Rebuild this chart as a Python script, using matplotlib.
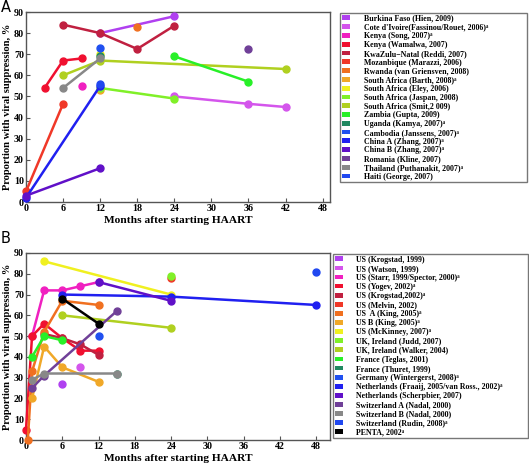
import matplotlib
matplotlib.use("Agg")
import matplotlib.pyplot as plt
from matplotlib.patches import Patch

SERIF = 'Liberation Serif'
FAM = ['Liberation Serif', 'DejaVu Serif', 'DejaVu Sans']
SUP = '\u1d43'

# ---------------- Panel A data ----------------
labels_A = [
    "Burkina Faso (Hien, 2009)",
    "Cote d'Ivoire(Fassinou/Rouet, 2006)" + SUP,
    "Kenya (Song, 2007)" + SUP,
    "Kenya (Wamalwa, 2007)",
    "KwaZulu\u2212Natal (Reddi, 2007)",
    "Mozanbique (Marazzi, 2006)",
    "Rwanda (van Griensven, 2008)",
    "South Africa (Barth, 2008)" + SUP,
    "South Africa (Eley, 2006)",
    "South Africa (Jaspan, 2008)",
    "South Africa (Smit,2 009)",
    "Zambia (Gupta, 2009)",
    "Uganda (Kamya, 2007)" + SUP,
    "Cambodia (Janssens, 2007)" + SUP,
    "China A (Zhang, 2007)" + SUP,
    "China B (Zhang, 2007)" + SUP,
    "Romania (Kline, 2007)",
    "Thailand (Puthanakit, 2007)" + SUP,
    "Haiti (George, 2007)",
]
colors_A = ["#b040f0", "#d455ec", "#f020c0", "#f01030", "#c02040", "#f03828",
            "#f07020", "#f0a828", "#f0f020", "#80f028", "#b0d020", "#28f028",
            "#208860", "#2050f0", "#2020f0", "#6010c8", "#704098", "#888888",
            "#2048f0"]
x_A = [
    [12, 24],
    [24, 36, 42],
    [9],
    [3, 6, 9],
    [6, 12, 18, 24],
    [0, 6],
    [18],
    [12],
    [12],
    [12, 24],
    [6, 12, 42],
    [24, 36],
    [12],
    [12],
    [0, 12],
    [0, 12],
    [36],
    [6, 12],
    [12],
]
y_A = [
    [80, 88],
    [50, 46.5, 45],
    [55],
    [54, 67, 68],
    [84, 80, 72.5, 83.5],
    [5, 46.5],
    [83],
    [53],
    [70],
    [54, 49],
    [60, 67, 63],
    [69, 57],
    [69],
    [73],
    [2, 55],
    [3, 16],
    [72.5],
    [54, 68],
    [56],
]

# ---------------- Panel B data ----------------
labels_B = [
    "US (Krogstad, 1999)",
    "US (Watson, 1999)",
    "US (Starr, 1999/Spector, 2000)" + SUP,
    "US (Yogev, 2002)" + SUP,
    "US (Krogstad,2002)" + SUP,
    "US (Melvin, 2002)",
    "US  A (King, 2005)" + SUP,
    "US B (King, 2005)" + SUP,
    "US (McKinney, 2007)" + SUP,
    "UK, Ireland (Judd, 2007)",
    "UK, Ireland (Walker, 2004)",
    "France (Teglas, 2001)",
    "France (Thuret, 1999)",
    "Germany (Wintergerst, 2008)" + SUP,
    "Netherlands (Fraaij, 2005/van Ross., 2002)" + SUP,
    "Netherlands (Scherpbier, 2007)",
    "Switzerland A (Nadal, 2000)",
    "Switzerland B (Nadal, 2000)",
    "Switzerland (Rudin, 2008)" + SUP,
    "PENTA, 2002" + SUP,
]
colors_B = ["#b040f0", "#d455ec", "#f020c0", "#f01030", "#c02040", "#f03828",
            "#f07020", "#f0a828", "#f0f020", "#80f028", "#b0d020", "#28f028",
            "#208860", "#2050f0", "#2020f0", "#6010c8", "#704098", "#888888",
            "#2048f0", "#000000"]
x_B = [
    [6],
    [9],
    [1, 3, 6, 9, 12],
    [0, 1, 3, 6, 9, 12],
    [3, 6, 9, 12],
    [24],
    [0.3, 1, 3, 6, 12],
    [1, 3, 6, 12],
    [3, 24],
    [24],
    [6, 24],
    [1, 3, 6],
    [15],
    [12],
    [6, 24, 48],
    [12, 24],
    [1, 3, 15],
    [1, 3, 15],
    [48],
    [6, 12],
]
y_B = [
    [27],
    [35],
    [50, 72, 72, 74, 76],
    [5, 50, 56, 49, 43, 43],
    [51, 49, 46, 41],
    [78],
    [0, 33, 52, 67, 65],
    [20, 45, 35, 28],
    [86, 70],
    [79],
    [60, 54],
    [40, 50, 48],
    [32],
    [50],
    [70, 69, 65],
    [76, 67],
    [25, 31, 62],
    [29, 32, 32],
    [81],
    [68, 56],
]

W, H = 529, 466
fig = plt.figure(figsize=(W / 100, H / 100), dpi=100)


def px_axes(l, t, r, b):
    return fig.add_axes([l / W, 1 - b / H, (r - l) / W, (b - t) / H])


def style(ax, xmax):
    ax.set_xlim(0, xmax)
    ax.set_ylim(0, 90)
    ax.set_xticks([0, 6, 12, 18, 24, 30, 36, 42, 48])
    ax.set_yticks(range(0, 91, 10))
    for s in ax.spines.values():
        s.set_color('#555555')
        s.set_linewidth(1.0)
    ax.tick_params(direction='in', length=3, width=0.8, color='#555555', pad=1.5)
    for lab in ax.get_xticklabels() + ax.get_yticklabels():
        lab.set_fontfamily(SERIF)
        lab.set_fontweight('bold')
        lab.set_fontsize(7.2)
    ax.set_xlabel('Months after starting HAART', fontfamily=SERIF,
                  fontweight='bold', fontsize=8.2, labelpad=2)
    ax.set_ylabel('Proportion with viral suppression, %', fontfamily=SERIF,
                  fontweight='bold', fontsize=7.6, labelpad=1)


def draw(ax, xs, ys, cols):
    for xv, yv, c in zip(xs, ys, cols):
        ax.plot(xv, yv, '-o', color=c, lw=1.8, ms=5, clip_on=False, zorder=3)


def legend(labels, cols, l, t, r, spacing, htp):
    handles = [Patch(facecolor=c, edgecolor='none') for c in cols]
    leg = fig.legend(handles, labels, loc='upper left',
                     bbox_to_anchor=(l / W, 1 - t / H, (r - l) / W, 0),
                     bbox_transform=fig.transFigure, mode='expand',
                     prop={'family': FAM, 'weight': 'bold', 'size': 5.7},
                     handlelength=1.1, handleheight=0.55, handletextpad=htp,
                     labelspacing=spacing, borderpad=0.2, borderaxespad=0,
                     fancybox=False, frameon=True)
    leg.get_frame().set_edgecolor('#555555')
    leg.get_frame().set_linewidth(1.0)
    return leg


axA = px_axes(26, 12, 330, 202)
draw(axA, x_A, y_A, colors_A)
style(axA, 49.2)
legend(labels_A, colors_A, 340, 13, 527, 0.1, 1.7)
fig.text(1 / W, 1 - 0 / H, 'A', fontsize=10.5, va='top', ha='left',
         fontfamily='DejaVu Sans')

axB = px_axes(26, 253, 330, 440)
draw(axB, x_B, y_B, colors_B)
style(axB, 50.3)
legend(labels_B, colors_B, 333, 254, 528, 0.14, 1.6)
fig.text(1 / W, 1 - 231 / H, 'B', fontsize=10.5, va='top', ha='left',
         fontfamily='DejaVu Sans')

fig.savefig('out.png', dpi=100)
